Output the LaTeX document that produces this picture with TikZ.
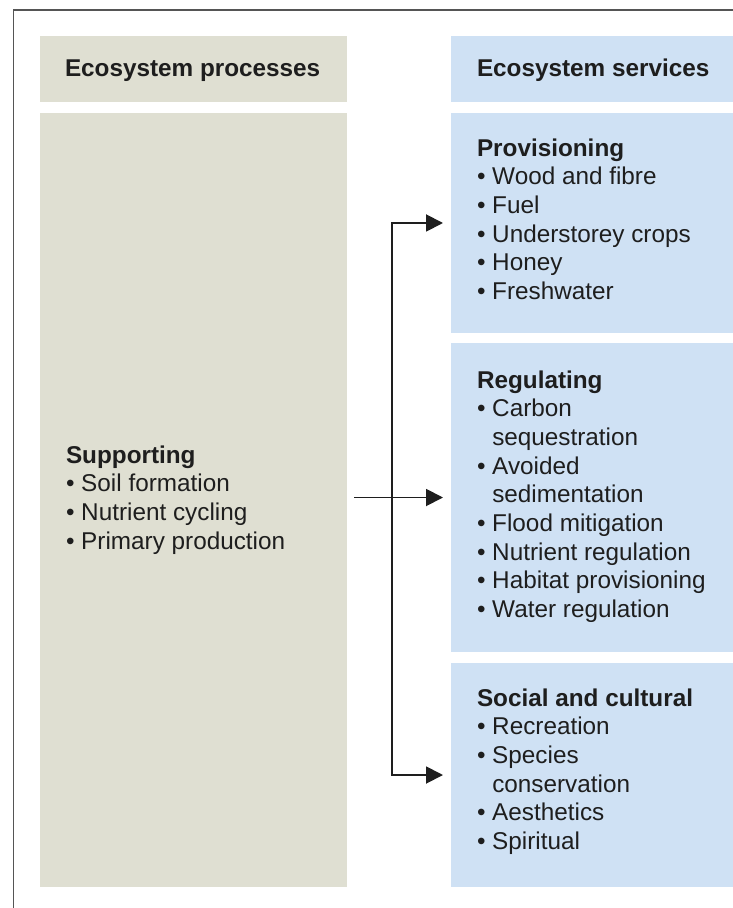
\documentclass[tikz,border=0pt]{standalone}
\usepackage{fontspec}
\setmainfont{Liberation Sans}
\usetikzlibrary{arrows.meta}
\definecolor{procfill}{RGB}{223,223,210}
\definecolor{servfill}{RGB}{207,225,244}
\definecolor{framegray}{RGB}{85,85,85}
\definecolor{inkgray}{RGB}{30,30,30}
\newcommand{\bul}{\textbullet\ }
\newcommand{\ind}{\phantom{\textbullet\ }}
\begin{document}
\begin{tikzpicture}
		[x=0.5pt, y=-0.5pt,
		every node/.style={inner sep=0pt, outer sep=0pt},
		procbox/.style={fill=procfill, anchor=north west, minimum width=153.5pt},
		servbox/.style={fill=servfill, anchor=north west, minimum width=144.5pt},
		head/.style={anchor=base west, text=inkgray, font=\bfseries\fontsize{12.15pt}{14.35pt}\selectfont},
		body/.style={anchor=north west, align=left, text=inkgray, font=\fontsize{12.15pt}{14.35pt}\selectfont},
		flow/.style={draw=inkgray, line width=0.95pt},
		>={Triangle[length=8.5pt,width=8.5pt]}]
		\useasboundingbox (0,0) rectangle (732,908);
		\draw[framegray, line width=0.85pt] (13.5,920) -- (13.5,10) -- (745,10);
		\node[procbox, minimum height=33pt] (prochead) at (40,36) {};
		\node[procbox, minimum height=387pt] (sup) at (40,113) {};
		\node[servbox, minimum height=33pt] (servhead) at (451,36) {};
		\node[servbox, minimum height=110pt] (prov) at (451,113) {};
		\node[servbox, minimum height=154.5pt] (reg) at (451,343) {};
		\node[servbox, minimum height=112pt] (soc) at (451,663) {};
		\node[head] (prochd) at (65,76.5) {Ecosystem processes};
		\node[head] (servhd) at (477,76.5) {Ecosystem services};
		\node[body] (suptxt) at (66,445.4) {\textbf{Supporting}\\ \bul Soil formation\\ \bul Nutrient cycling\\ \bul Primary production};
		\node[body] (provtxt) at (477,138.4) {\textbf{Provisioning}\\ \bul Wood and fibre\\ \bul Fuel\\ \bul Understorey crops\\ \bul Honey\\ \bul Freshwater};
		\node[body] (regtxt) at (477,370.4) {\textbf{Regulating}\\ \bul Carbon\\ \ind sequestration\\ \bul Avoided\\ \ind sedimentation\\ \bul Flood mitigation\\ \bul Nutrient regulation\\ \bul Habitat provisioning\\ \bul Water regulation};
		\node[body] (soctxt) at (477,688.4) {\textbf{Social and cultural}\\ \bul Recreation\\ \bul Species\\ \ind conservation\\ \bul Aesthetics\\ \bul Spiritual};
		\draw[flow, <->] ([xshift=-4pt]prov.west) -| ([xshift=-29.5pt]soc.west) -- ([xshift=-4pt]soc.west);
		\draw[flow, ->] ([xshift=3.5pt]sup.east |- reg.west) -- ([xshift=-4pt]reg.west);
	\end{tikzpicture}
\end{document}
